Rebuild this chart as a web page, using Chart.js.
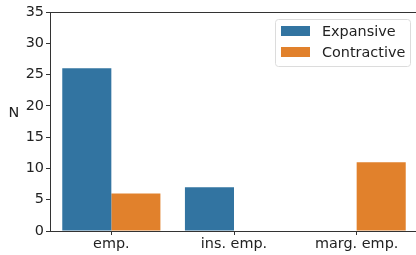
<!DOCTYPE html>
<html>
<head>
<meta charset="utf-8">
<script src="https://cdn.jsdelivr.net/npm/chart.js@4"></script>
<style>
  html, body { margin: 0; padding: 0; overflow: hidden; background: #fff; }
  #wrap { width: 418px; height: 255px; }
</style>
</head>
<body>
<div id="wrap"><canvas id="bar-chart"></canvas></div>
<script>
// dados do gráfico
const categorias = ['emp.', 'ins. emp.', 'marg. emp.'];
const expansive = [26, 7, 0];
const contractive = [6, 0, 11];
const ticksY = [0, 5, 10, 15, 20, 25, 30, 35];

const fonte = 'DejaVu Sans';
const tam = 14.4;

// legenda dentro da área + eixo de cima + rótulo "N"
const extras = {
    id: 'extras',
    afterDraw(chart) {
        const c = chart.ctx;
        const a = chart.chartArea;
        c.save();
        // linha superior
        c.strokeStyle = '#333';
        c.lineWidth = 1;
        c.beginPath();
        c.moveTo(a.left, a.top + 0.5);
        c.lineTo(a.right, a.top + 0.5);
        c.stroke();

        // rótulo N
        c.fillStyle = '#222';
        c.font = tam + 'px ' + fonte;
        c.textAlign = 'center';
        c.textBaseline = 'middle';
        c.fillText('N', 14, 113);

        // caixa da legenda
        const bx = 275, by = 19, bw = 135, bh = 47;
        c.fillStyle = 'rgba(255,255,255,0.8)';
        c.strokeStyle = '#dcdcdc';
        c.beginPath();
        c.roundRect(bx + 0.5, by + 0.5, bw, bh, 3);
        c.fill();
        c.stroke();

        chart.data.datasets.forEach((ds, i) => {
            const y = 26 + i * 21;
            c.fillStyle = ds.backgroundColor;
            c.fillRect(281, y, 29, 10);
            c.fillStyle = '#222';
            c.textAlign = 'left';
            c.fillText(ds.label, 322, y + 6);
        });
        c.restore();
    }
};

const ctx = document.getElementById('bar-chart').getContext('2d');
new Chart(ctx, {
    type: 'bar',
    data: {
        labels: categorias,
        datasets: [{
            label: 'Expansive',
            data: expansive,
            backgroundColor: '#3274a1',
            categoryPercentage: 0.8,
            barPercentage: 1.0
        }, {
            label: 'Contractive',
            data: contractive,
            backgroundColor: '#e1812c',
            categoryPercentage: 0.8,
            barPercentage: 1.0
        }]
    },
    options: {
        responsive: true,
        maintainAspectRatio: false,
        animation: false,
        layout: { padding: { top: 12, right: 0, left: 0, bottom: 0 } },
        plugins: {
            legend: { display: false },
            tooltip: { enabled: false }
        },
        scales: {
            x: {
                grid: { display: true, offset: false, drawOnChartArea: false, tickLength: 4, color: '#333' },
                border: { color: '#333', width: 1 },
                ticks: { color: '#222', font: { family: fonte, size: tam }, padding: 1, maxRotation: 0 },
                afterFit(scale) { scale.height = 24; }
            },
            y: {
                min: 0,
                max: 35,
                afterBuildTicks(scale) { scale.ticks = ticksY.map(v => ({ value: v })); },
                grid: { display: true, drawOnChartArea: false, tickLength: 4, color: '#333' },
                border: { color: '#333', width: 1 },
                ticks: { color: '#222', font: { family: fonte, size: tam }, padding: 2 },
                afterFit(scale) { scale.width = 50; }
            }
        }
    },
    plugins: [extras]
});
</script>
</body>
</html>
